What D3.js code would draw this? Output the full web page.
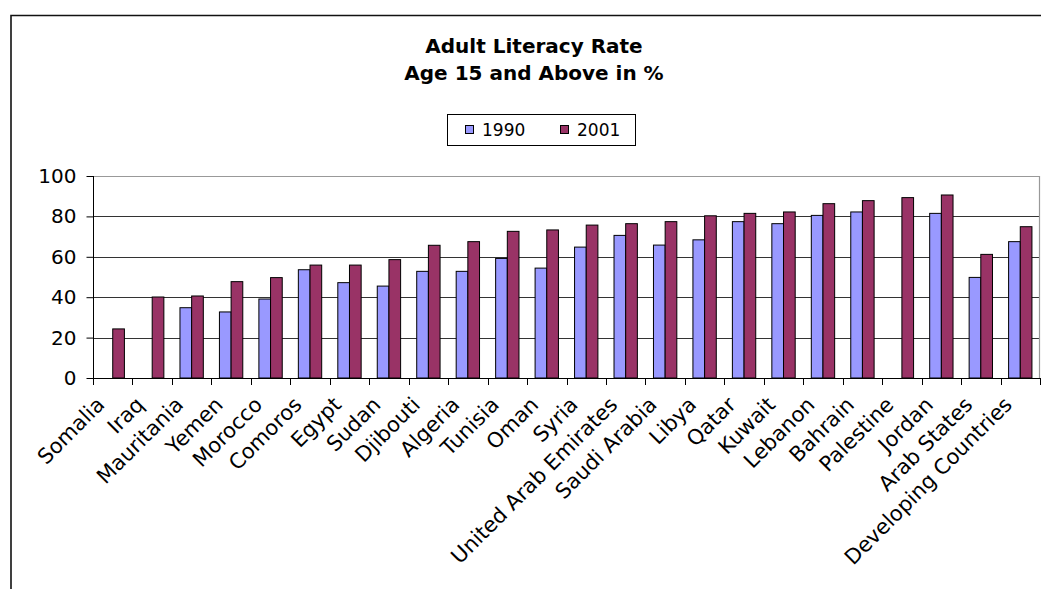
<!DOCTYPE html>
<html>
<head>
<meta charset="utf-8">
<script src="https://cdn.jsdelivr.net/npm/d3@7/dist/d3.min.js"></script>
<style>
  html, body { margin: 0; padding: 0; background: #fff; }
  svg { display: block; font-family: "DejaVu Sans", Verdana, sans-serif; }
</style>
</head>
<body>
<svg id="chart" width="1041" height="589"></svg>
<script>
// Adult literacy rate (age 15 and above, %) by country, 1990 vs 2001
const categories = ["Somalia", "Iraq", "Mauritania", "Yemen", "Morocco", "Comoros", "Egypt", "Sudan",
  "Djibouti", "Algeria", "Tunisia", "Oman", "Syria", "United Arab Emirates", "Saudi Arabia", "Libya",
  "Qatar", "Kuwait", "Lebanon", "Bahrain", "Palestine", "Jordan", "Arab States", "Developing Countries"];
const seriesNames = ["1990", "2001"];
const values1990 = [null, null, 34.8, 32.7, 39.1, 53.6, 47.2, 45.5, 52.8, 52.8, 59.2, 54.4, 64.8, 70.6,
  65.8, 68.4, 77.4, 76.4, 80.5, 82.2, null, 81.5, 49.8, 67.5];
const values2001 = [24.3, 40.1, 40.6, 47.7, 49.7, 55.9, 55.9, 58.6, 65.7, 67.5, 72.6, 73.3, 75.7, 76.4,
  77.4, 80.3, 81.5, 82.2, 86.3, 87.8, 89.3, 90.6, 61.2, 74.9];
const yTicks = [0, 20, 40, 60, 80, 100];
const titleLines = ["Adult Literacy Rate", "Age 15 and Above in %"];

const colors = { "1990": "#9999ff", "2001": "#993366" };

const svg = d3.select("#chart");
const W = 1041, H = 589;
const plot = { left: 93, right: 1040, top: 176, bottom: 378 };

// outer chart frame (only the top and left edges fall inside the page)
svg.append("rect").attr("x", 0).attr("y", 0).attr("width", W).attr("height", H).attr("fill", "#fff");
svg.append("path")
  .attr("d", `M11,${H} L11,15.5 L${W},15.5`)
  .attr("fill", "none").attr("stroke", "#111").attr("stroke-width", 1.6);

// title
const title = svg.append("text")
  .attr("text-anchor", "middle")
  .attr("font-weight", "bold")
  .attr("font-size", 20)
  .attr("fill", "#000");
titleLines.forEach((t, i) => {
  title.append("tspan").attr("x", 534).attr("y", 53 + i * 27).text(t);
});

// scales
const x = d3.scaleBand().domain(categories).range([plot.left, plot.right]).paddingInner(0).paddingOuter(0);
const xs = d3.scaleBand().domain(seriesNames).range([0, x.bandwidth()]).paddingInner(0).paddingOuter(0.69);
const y = d3.scaleLinear().domain([0, 100]).range([plot.bottom, plot.top]);

// horizontal gridlines
svg.append("g").selectAll("line")
  .data(yTicks.filter(v => v > 0 && v < 100))
  .join("line")
  .attr("x1", plot.left).attr("x2", plot.right)
  .attr("y1", d => Math.round(y(d)) + 0.5).attr("y2", d => Math.round(y(d)) + 0.5)
  .attr("stroke", "#333").attr("stroke-width", 1);

// plot area border (top and right)
svg.append("path")
  .attr("d", `M${plot.left},${Math.round(plot.top) + 0.5} L${plot.right - 0.5},${Math.round(plot.top) + 0.5} L${plot.right - 0.5},${plot.bottom}`)
  .attr("fill", "none").attr("stroke", "#999").attr("stroke-width", 1.2);

// bars
const rows = categories.map((c, i) => ({ c, vals: [
  { s: "1990", v: values1990[i] },
  { s: "2001", v: values2001[i] }
].filter(d => d.v !== null) }));

svg.append("g").selectAll("g")
  .data(rows)
  .join("g")
  .attr("transform", d => `translate(${x(d.c)},0)`)
  .selectAll("rect")
  .data(d => d.vals)
  .join("rect")
  .attr("x", d => xs(d.s))
  .attr("width", xs.bandwidth())
  .attr("y", d => y(d.v))
  .attr("height", d => y(0) - y(d.v))
  .attr("fill", d => colors[d.s])
  .attr("stroke", "#000")
  .attr("stroke-width", 1);

// y axis
const yAxis = svg.append("g")
  .attr("transform", `translate(${plot.left + 0.5},0)`)
  .call(d3.axisLeft(y).tickValues(yTicks).tickSize(7).tickPadding(10).tickFormat(d3.format("d")));
yAxis.select(".domain").attr("stroke", "#000").attr("d", `M0,${plot.top}V${plot.bottom}`);
yAxis.selectAll(".tick line").attr("stroke", "#000");
yAxis.selectAll(".tick text")
  .attr("font-family", "DejaVu Sans, Verdana, sans-serif")
  .attr("font-size", 20).attr("fill", "#000");

// x axis line and category boundary ticks
const xAxis = svg.append("g");
xAxis.append("line")
  .attr("x1", plot.left).attr("x2", plot.right)
  .attr("y1", plot.bottom + 0.5).attr("y2", plot.bottom + 0.5)
  .attr("stroke", "#000");
const bounds = categories.map(c => x(c)).concat([x(categories[categories.length - 1]) + x.bandwidth()]);
xAxis.selectAll("line.tick")
  .data(bounds)
  .join("line").attr("class", "tick")
  .attr("x1", d => Math.round(d) + 0.5).attr("x2", d => Math.round(d) + 0.5)
  .attr("y1", plot.bottom).attr("y2", plot.bottom + 7)
  .attr("stroke", "#000");

// rotated category labels
xAxis.selectAll("text")
  .data(categories)
  .join("text")
  .attr("text-anchor", "end")
  .attr("font-size", 21)
  .attr("fill", "#000")
  .attr("transform", d => `translate(${x(d) + x.bandwidth() / 2 - 7},406) rotate(-45)`)
  .text(d => d);

// legend
const legend = svg.append("g");
legend.append("rect")
  .attr("x", 447.5).attr("y", 114.5).attr("width", 188).attr("height", 31)
  .attr("fill", "#fff").attr("stroke", "#000").attr("stroke-width", 1);
const legendItems = [{ s: "1990", x: 465 }, { s: "2001", x: 560 }];
legendItems.forEach(it => {
  legend.append("rect")
    .attr("x", it.x + 0.5).attr("y", 125.5).attr("width", 8).attr("height", 8)
    .attr("fill", colors[it.s]).attr("stroke", "#000").attr("stroke-width", 1);
  legend.append("text")
    .attr("x", it.x + 17).attr("y", 136)
    .attr("font-size", 17).attr("fill", "#000")
    .text(it.s);
});
</script>
</body>
</html>
